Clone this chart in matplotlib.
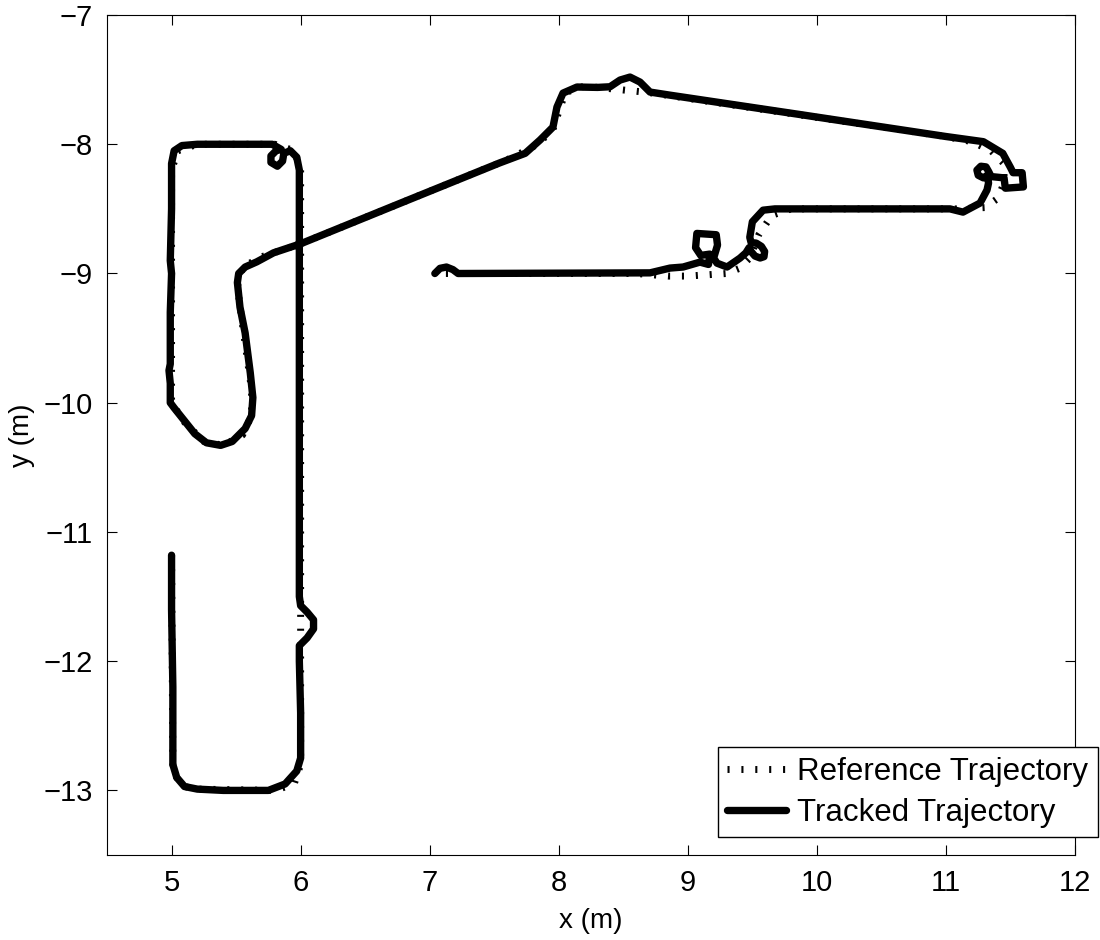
import matplotlib
matplotlib.use("Agg")
import matplotlib.pyplot as plt

plt.rcParams['font.family'] = ['Liberation Sans', 'DejaVu Sans']

# Tracked trajectory waypoints (m)
track_x = [5.00, 5.00, 5.01, 5.01, 5.04, 5.10, 5.20, 5.40, 5.60, 5.75, 5.88, 5.97, 6.00, 6.00, 5.99, 5.99,
           6.05, 6.10, 6.10, 6.05, 6.00, 5.99, 5.99, 5.99, 5.99, 5.99, 5.99, 5.99, 5.99, 5.99, 5.97, 5.92,
           5.87, 5.86, 5.82, 5.77, 5.77, 5.81, 5.85, 5.78, 5.60, 5.20, 5.08, 5.02, 5.00, 5.00, 4.99, 5.00,
           4.99, 4.99, 4.98, 4.99, 4.99, 5.02, 5.10, 5.18, 5.27, 5.38, 5.47, 5.57, 5.62, 5.63, 5.61, 5.57,
           5.53, 5.51, 5.52, 5.57, 5.66, 5.79, 6.00, 6.77, 7.54, 7.74, 7.855, 7.955, 7.986, 8.033, 8.141,
           8.30, 8.397, 8.475, 8.552, 8.630, 8.707, 8.862, 9.87, 11.00, 11.29, 11.44, 11.50, 11.52, 11.59,
           11.60, 11.46, 11.45, 11.35, 11.33, 11.31, 11.27, 11.24, 11.25, 11.29, 11.32, 11.33, 11.318,
           11.264, 11.132, 11.031, 9.87, 9.675, 9.583, 9.50, 9.48, 9.49, 9.53, 9.57, 9.595, 9.59, 9.56,
           9.52, 9.49, 9.475, 9.45, 9.404, 9.304, 9.226, 9.20, 9.23, 9.22, 9.07, 9.06, 9.10, 9.17, 9.16,
           9.094, 8.963, 8.862, 8.707, 7.22, 7.18, 7.13, 7.08, 7.04]
track_y = [-11.18, -11.60, -12.20, -12.80, -12.90, -12.97, -12.99, -13.00, -13.00, -13.00, -12.95, -12.85,
           -12.75, -12.40, -12.00, -11.88, -11.82, -11.75, -11.68, -11.62, -11.57, -11.50, -11.00, -10.50,
           -10.00, -9.50, -9.00, -8.50, -8.35, -8.20, -8.10, -8.05, -8.07, -8.13, -8.17, -8.14, -8.09,
           -8.05, -8.04, -8.00, -8.00, -8.00, -8.01, -8.05, -8.15, -8.50, -8.90, -9.00, -9.30, -9.70,
           -9.75, -9.85, -10.00, -10.04, -10.14, -10.24, -10.31, -10.33, -10.30, -10.20, -10.10, -9.96,
           -9.77, -9.46, -9.26, -9.07, -9.00, -8.95, -8.91, -8.84, -8.77, -8.457, -8.145, -8.07, -7.967,
           -7.867, -7.712, -7.604, -7.557, -7.56, -7.555, -7.503, -7.480, -7.519, -7.596, -7.62, -7.77,
           -7.94, -7.98, -8.07, -8.18, -8.22, -8.22, -8.33, -8.34, -8.26, -8.25, -8.21, -8.175, -8.17,
           -8.20, -8.24, -8.26, -8.24, -8.30, -8.354, -8.455, -8.525, -8.50, -8.50, -8.50, -8.51, -8.60,
           -8.72, -8.76, -8.765, -8.79, -8.83, -8.87, -8.88, -8.865, -8.83, -8.80, -8.84, -8.881, -8.95,
           -8.92, -8.88, -8.78, -8.70, -8.69, -8.80, -8.86, -8.85, -8.93, -8.912, -8.95, -8.958, -8.995,
           -9.00, -8.97, -8.95, -8.96, -9.00]

# Reference trajectory waypoints (m)
ref_x = [5.00, 5.01, 5.04, 5.10, 5.20, 5.80, 5.95, 6.00, 6.00, 5.95, 5.80, 5.20, 5.05, 5.00, 5.00, 5.10,
         5.25, 5.40, 5.55, 5.62, 5.62, 5.55, 5.51, 5.55, 5.70, 6.00, 7.60, 7.80, 7.95, 8.00, 8.05, 8.20,
         8.40, 8.70, 11.00, 11.20, 11.35, 11.45, 11.45, 11.40, 11.30, 11.10, 9.80, 9.65, 9.55, 9.48,
         9.40, 9.30, 9.00, 8.85, 8.60, 7.05]
ref_y = [-11.18, -12.80, -12.90, -12.97, -12.99, -13.00, -12.95, -12.80, -8.20, -8.05, -8.00, -8.00,
         -8.05, -8.20, -10.00, -10.15, -10.30, -10.33, -10.25, -10.10, -9.90, -9.40, -9.10, -8.95,
         -8.87, -8.77, -8.12, -8.02, -7.90, -7.75, -7.60, -7.55, -7.57, -7.60, -7.94, -7.98, -8.05,
         -8.15, -8.30, -8.42, -8.49, -8.50, -8.50, -8.55, -8.70, -8.88, -8.96, -9.00, -9.02, -9.02,
         -9.00, -9.00]

x_ticks = [5, 6, 7, 8, 9, 10, 11, 12]
y_ticks = [-13, -12, -11, -10, -9, -8, -7]

fig = plt.figure(figsize=(11, 9.4), dpi=100)
ax = fig.add_axes([0.0973, 0.0904, 0.88, 0.8936])

ax.plot(ref_x, ref_y, color='black', lw=5, linestyle=(0, (0.3, 1.7)),
        dash_capstyle='butt', label='Reference Trajectory', zorder=2)
ax.plot(track_x, track_y, color='black', lw=5.3, solid_joinstyle='round',
        solid_capstyle='round', label='Tracked Trajectory', zorder=3)

ax.set_xlim(4.5, 12)
ax.set_ylim(-13.5, -7)
ax.set_xticks(x_ticks)
ax.set_yticks(y_ticks)
ax.set_yticklabels(['\u2212' + str(abs(v)) for v in y_ticks])
ax.tick_params(direction='in', length=7, width=0.8, top=True, right=True,
               labelsize=21, pad=10, colors='black')
for s in ax.spines.values():
    s.set_linewidth(0.8)
    s.set_color('black')

ax.set_xlabel('x (m)', fontsize=20, labelpad=8)
ax.set_ylabel('y (m)', fontsize=20, labelpad=6)

leg = ax.legend(loc='lower right', bbox_to_anchor=(0.998, 0.1096),
                bbox_transform=fig.transFigure, borderaxespad=0,
                fontsize=22.5, frameon=True, fancybox=False, framealpha=1,
                edgecolor='black', handlelength=1.9, handletextpad=0.35,
                labelspacing=0.35, borderpad=0.3)
leg.get_frame().set_linewidth(1.0)

fig.savefig('out.png', dpi=100, facecolor='white')
